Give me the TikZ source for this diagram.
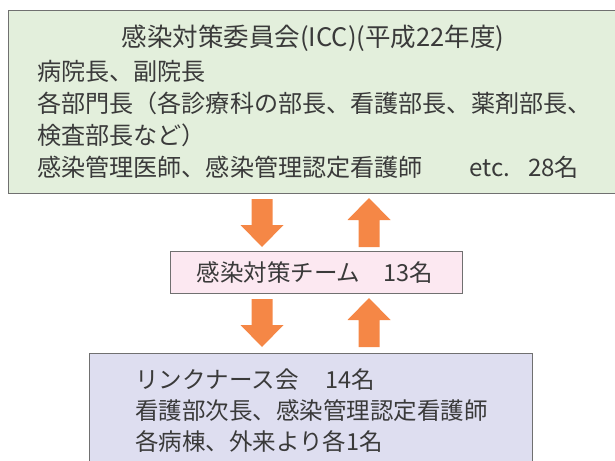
\documentclass[tikz,border=0pt]{standalone}
\usepackage{fontspec}
\setmainfont{Noto Sans CJK JP}
\definecolor{txt}{HTML}{3A3A3A}
\definecolor{edge}{HTML}{707070}
\definecolor{greenfill}{HTML}{E3EFDC}
\definecolor{pinkfill}{HTML}{FCE8F1}
\definecolor{bluefill}{HTML}{DEDEF0}
\definecolor{orangec}{HTML}{F58746}
\tikzset{
  panel/.style={draw=edge, line width=1.4pt, inner sep=0pt, anchor=north west},
  line/.style={anchor=base west, inner sep=0pt, text=txt, font=\fontsize{23.5}{28}\selectfont},
  bigline/.style={line, font=\fontsize{24.1}{28}\selectfont},
  cline/.style={anchor=base, inner sep=0pt, text=txt, font=\fontsize{23.5}{28}\selectfont},
  downblk/.pic={\fill[orangec] (-10.5,-24) -- (10.5,-24) -- (10.5,2) -- (21.5,2)
     -- (0,24) -- (-21.5,2) -- (-10.5,2) -- cycle;},
  upblk/.pic={\fill[orangec] (-10.5,24.5) -- (10.5,24.5) -- (10.5,-2.5) -- (21.5,-2.5)
     -- (0,-24.5) -- (-21.5,-2.5) -- (-10.5,-2.5) -- cycle;}
}
\begin{document}
\begin{tikzpicture}[x=1pt,y=-1pt]
\useasboundingbox (0,0) rectangle (615,460);
% boxes
\node[panel, fill=greenfill, minimum width=620pt, minimum height=183pt] (icc) at (8,10) {};
\node[panel, fill=pinkfill, minimum width=292pt, minimum height=42pt] (team) at (170,251) {};
\node[panel, fill=bluefill, minimum width=443pt, minimum height=120pt] (link) at (89,353) {};
% top box text
\node[cline, font=\fontsize{25.5}{28}\selectfont] (t0) at (313,46) {感染対策委員会(ICC)(平成22年度)};
\node[bigline] (t1) at (37,81) {病院長、副院長};
\node[bigline] (t2) at (37,112) {各部門長（各診療科の部長、看護部長、薬剤部長、};
\node[bigline] (t3) at (37,144) {検査部長など）};
\node[bigline] (t4) at (37,176) {感染管理医師、感染管理認定看護師};
\node[bigline] (t5) at (469,176) {etc.\hspace{0.75em}28名};
% middle text
\node[cline] (m0) at (315,281) {感染対策チーム　13名};
% bottom text
\node[line] (b0) at (135,388) {リンクナース会\hspace{1.15em}14名};
\node[line] (b1) at (135,419) {看護部次長、感染管理認定看護師};
\node[line] (b2) at (135,450) {各病棟、外来より各1名};
% block arrows
\coordinate (d1) at (262,223);
\coordinate (u1) at (369,222.5);
\coordinate (d2) at (262,323);
\coordinate (u2) at (369,322.5);
\pic at (d1) {downblk};
\pic at (u1) {upblk};
\pic at (d2) {downblk};
\pic at (u2) {upblk};
\end{tikzpicture}
\end{document}
